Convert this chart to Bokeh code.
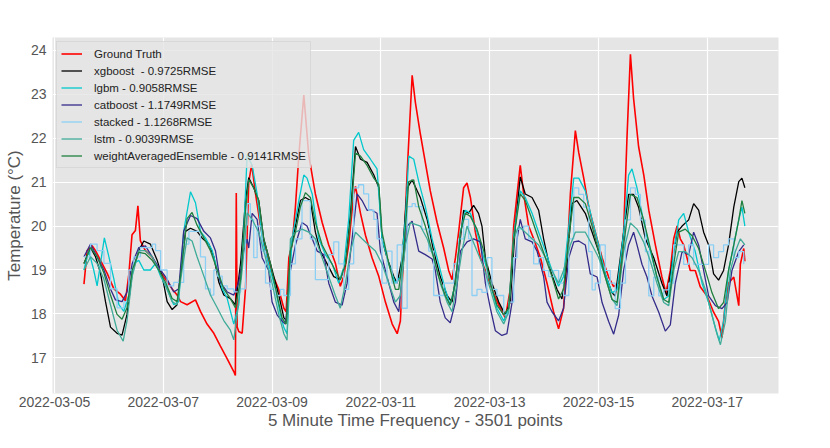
import numpy as np
import pandas as pd
from bokeh.plotting import figure
from bokeh.models import Range1d, FixedTicker, DatetimeTickFormatter
from bokeh.embed import file_html
from bokeh.resources import INLINE

# ---------------- data (hours since first sample, values in °C) ----------------
start_time = "2022-03-05 13:00"

gt_h = [0, 1.4, 3.6, 5.1, 7.3, 10.2, 13.2, 16.1, 18.3, 19.8, 21.2, 22.7, 23.8, 24.9, 27.1, 30.1, 33.0, 36.0, 38.9, 41.1,
        42.6, 45.5, 49.2, 51.4, 54.3, 57.3, 60.2, 63.2, 66.1, 66.8, 67.2, 67.6, 68.3, 69.8, 71.3, 72.7, 74.0, 75.7, 77.9,
        80.1, 83.0, 85.9, 88.2, 89.2, 90.4, 91.8, 93.3, 94.8, 97.0, 99.2, 102.1, 105.1, 108.0, 111.0, 113.1, 114.6,
        116.8, 119.0, 119.8, 122.0, 124.2, 127.1, 130.1, 133.0, 136.0, 138.2, 139.6, 141.1, 142.6, 144.8, 146.2, 148.4,
        150.6, 152.8, 155.8, 158.7, 160.9, 162.4, 163.9, 165.3, 167.5, 169.0, 170.5, 172.7, 174.9, 177.1, 180.0, 183.0,
        185.9, 188.1, 189.6, 191.1, 192.5, 194.0, 196.2, 198.4, 201.4, 204.3, 207.2, 209.4, 211.6, 213.1, 214.6, 216.8,
        218.3, 220.5, 222.7, 225.6, 228.6, 231.5, 233.7, 235.9, 238.1, 239.6, 241.1, 242.5, 244.7, 247.0, 249.2, 252.1,
        255.0, 256.8, 258.7, 260.2, 261.7, 263.1, 264.6, 267.5, 269.7, 271.9, 274.9, 277.8, 280.0, 281.5, 283.0, 284.4,
        286.7, 288.9, 289.6, 291.1, 291.6]
gt_v = [18.68, 19.44, 19.55, 19.44, 19.22, 18.93, 18.57, 18.45, 18.3, 18.9, 19.8, 19.9, 20.46, 19.66, 19.44, 19.3, 19.0,
        18.79, 18.57, 18.43, 18.28, 18.21, 18.32, 18.06, 17.77, 17.56, 17.27, 16.98, 16.69, 16.6, 20.75, 17.7, 17.6,
        17.56, 18.6, 21.0, 21.4, 20.73, 20.0, 19.43, 18.92, 18.56, 18.13, 18.05, 19.28, 19.57, 20.44, 21.6, 22.98, 21.6,
        20.73, 20.08, 19.57, 19.14, 18.63, 18.85, 19.57, 20.73, 20.9, 20.29, 19.79, 19.28, 18.85, 18.27, 17.77, 17.55,
        17.84, 19.43, 21.23, 23.43, 22.82, 22.1, 21.45, 20.8, 20.08, 19.5, 18.99, 18.78, 19.28, 19.86, 20.87, 20.98,
        20.65, 19.86, 19.28, 18.99, 18.56, 18.2, 17.91, 18.56, 20.0, 20.73, 21.38, 20.73, 20.0, 19.71, 19.28, 18.7, 18.05,
        17.66, 18.13, 19.28, 20.73, 22.17, 21.67, 21.09, 20.43, 19.86, 19.28, 18.84, 18.62, 18.7, 19.86, 22.03, 23.91,
        22.9, 21.81, 21.16, 20.36, 19.57, 18.84, 18.48, 18.99, 19.71, 20.0, 19.71, 19.57, 18.99, 18.99, 18.62, 18.41,
        18.04, 17.83, 17.46, 18.26, 18.7, 18.84, 18.19, 19.13, 19.49, 19.2]

xgb_h = [0, 2.9, 5.1, 7.3, 9.5, 11.7, 14.6, 16.8, 19.0, 21.3, 24.2, 26.4, 29.3, 32.3, 34.5, 36.7, 38.9, 41.1, 42.6, 44.8,
         47.0, 49.9, 52.1, 55.1, 57.3, 59.5, 61.7, 64.6, 66.8, 69.1, 71.3, 72.7, 74.9, 77.1, 79.3, 82.3, 86.0, 88.2,
         89.6, 91.1, 93.3, 95.5, 97.7, 99.9, 102.1, 104.3, 107.3, 110.2, 113.1, 115.4, 117.6, 119.8, 122.0, 124.9,
         127.9, 130.1, 131.5, 133.7, 136.7, 138.2, 140.4, 142.6, 144.8, 148.4, 151.4, 154.3, 157.2, 160.2, 162.4,
         164.6, 167.5, 169.7, 171.9, 174.1, 175.6, 177.1, 180.0, 183.0, 185.9, 188.1, 190.3, 192.5, 194.7, 197.7,
         200.6, 202.8, 205.8, 208.7, 210.9, 213.1, 215.3, 217.5, 221.2, 224.2, 227.1, 230.0, 233.0, 234.4, 237.4,
         240.3, 242.5, 244.7, 247.7, 251.4, 255.0, 257.2, 259.4, 261.7, 263.9, 266.8, 269.0, 271.2, 273.4, 275.6,
         277.8, 280.0, 282.2, 284.4, 286.7, 288.9, 290.3, 291.6]
xgb_v = [19.15, 19.51, 19.3, 18.93, 18.28, 17.7, 17.56, 17.52, 17.99, 18.93, 19.44, 19.66, 19.59, 19.22, 18.86, 18.28,
         18.1, 18.21, 18.86, 19.88, 19.95, 19.88, 19.73, 19.59, 19.3, 18.72, 18.43, 18.35, 18.21, 19.15, 20.6, 21.1,
         20.87, 20.58, 19.71, 19.14, 18.42, 17.91, 17.84, 19.43, 20.0, 20.58, 20.65, 20.58, 19.86, 19.43, 19.14, 18.85,
         18.78, 19.14, 20.29, 21.81, 21.52, 21.45, 21.16, 20.87, 19.71, 19.28, 18.85, 18.7, 19.28, 20.87, 21.05, 20.65,
         20.15, 19.43, 18.85, 18.42, 18.27, 19.06, 20.36, 20.29, 20.47, 20.29, 20.0, 19.28, 18.7, 18.27, 17.98, 18.27,
         20.0, 21.12, 20.73, 20.65, 20.36, 19.71, 18.99, 18.56, 18.34, 19.14, 20.51, 20.58, 20.29, 19.86, 19.42, 18.91,
         18.48, 18.41, 19.57, 20.72, 20.72, 20.43, 19.71, 19.28, 18.7, 18.41, 19.13, 19.86, 20.0, 20.14, 20.51, 20.36,
         19.86, 19.57, 18.91, 18.77, 18.99, 19.57, 20.43, 21.01, 21.09, 20.87]

lgbm_h = [0, 2.1, 4.3, 5.8, 7.3, 9.0, 11.0, 13.2, 15.4, 17.6, 19.8, 22.0, 24.2, 26.4, 29.3, 31.6, 33.8, 36.7, 39.6, 41.8,
          44.0, 47.0, 49.2, 51.4, 53.6, 56.6, 58.8, 61.0, 63.2, 66.1, 68.3, 70.5, 72.0, 74.2, 76.4, 78.6, 81.5, 84.5,
          86.7, 88.2, 89.6, 91.8, 94.8, 97.0, 98.4, 100.7, 103.6, 106.5, 109.5, 112.4, 114.6, 116.8, 119.0, 121.2,
          123.4, 126.4, 129.3, 131.5, 134.5, 137.4, 139.6, 141.8, 143.3, 145.5, 147.7, 150.6, 153.6, 156.5, 159.4,
          161.6, 163.9, 166.1, 168.3, 170.5, 173.4, 176.4, 179.3, 182.2, 185.2, 187.4, 189.6, 192.5, 194.7, 197.7,
          200.6, 203.6, 206.5, 209.4, 211.6, 213.9, 216.1, 218.3, 221.2, 224.2, 227.1, 230.0, 233.0, 235.2, 238.1,
          240.3, 241.8, 244.0, 246.2, 249.2, 252.8, 255.8, 258.0, 260.2, 262.4, 264.6, 266.8, 269.7, 272.7, 275.6,
          278.6, 280.3, 282.2, 284.4, 286.7, 288.9, 290.3, 291.6]
lgbm_v = [19.0, 19.44, 19.0, 18.64, 19.15, 19.73, 19.3, 18.79, 18.21, 18.06, 18.43, 19.15, 19.22, 19.0, 19.0, 19.15,
          18.86, 18.57, 18.21, 18.28, 19.88, 20.78, 20.53, 19.88, 19.73, 19.44, 19.0, 18.57, 18.35, 17.77, 18.21, 19.88,
          21.62, 21.38, 20.73, 19.71, 19.14, 18.56, 17.98, 17.69, 17.55, 19.71, 20.58, 21.16, 21.09, 20.73, 19.71,
          19.35, 19.14, 18.7, 19.06, 20.15, 21.95, 22.13, 21.74, 21.52, 21.3, 19.71, 19.14, 18.7, 18.85, 20.15, 21.59,
          21.52, 21.01, 20.44, 19.71, 19.14, 18.56, 18.2, 18.7, 19.86, 20.36, 20.29, 19.86, 19.28, 18.7, 18.13, 17.84,
          18.13, 19.79, 20.8, 20.65, 20.29, 19.86, 19.43, 18.99, 18.63, 18.85, 20.0, 21.09, 21.09, 20.8, 20.14, 19.57,
          18.91, 18.48, 18.55, 19.86, 21.16, 21.3, 20.87, 20.29, 19.57, 18.84, 18.33, 18.41, 19.42, 20.14, 20.29, 19.86,
          19.42, 18.7, 18.26, 17.68, 17.4, 17.83, 18.99, 19.57, 20.14, 20.43, 20.0]

cat_h = [0, 2.9, 5.8, 8.8, 11.7, 13.9, 16.8, 19.0, 21.3, 24.2, 27.1, 30.1, 33.8, 36.7, 39.6, 41.8, 44.0, 47.0, 49.9,
         52.9, 55.8, 58.0, 60.2, 63.2, 66.1, 68.3, 70.5, 72.0, 72.7, 74.2, 76.4, 78.6, 81.5, 83.0, 85.2, 87.4, 88.9,
         91.1, 93.3, 96.2, 98.4, 100.7, 102.9, 105.8, 108.0, 110.9, 113.9, 116.1, 118.3, 120.5, 122.7, 124.9, 127.1,
         129.3, 130.8, 133.7, 136.7, 138.9, 141.1, 142.6, 144.8, 147.7, 150.6, 153.6, 155.0, 157.2, 159.4, 161.6,
         163.9, 166.1, 169.0, 171.9, 174.9, 177.1, 179.3, 181.5, 184.4, 186.6, 188.9, 191.1, 192.5, 194.7, 197.7,
         199.9, 202.8, 204.3, 206.5, 209.4, 211.6, 213.9, 216.1, 218.3, 221.2, 223.4, 226.4, 228.6, 231.5, 233.7,
         235.9, 238.1, 240.3, 242.5, 244.0, 246.2, 248.4, 250.6, 253.6, 256.5, 258.7, 260.9, 263.9, 266.8, 269.0,
         271.2, 273.4, 275.6, 278.6, 281.5, 283.8, 285.9, 288.9, 291.1]
cat_v = [19.3, 19.59, 19.3, 19.0, 18.57, 18.32, 18.28, 18.5, 19.15, 19.51, 19.55, 19.3, 19.0, 18.79, 18.5, 18.57, 19.88,
         20.24, 20.17, 19.88, 19.73, 19.44, 18.72, 18.5, 18.43, 18.72, 19.44, 19.7, 19.5, 20.29, 20.15, 19.28, 18.99,
         18.27, 17.98, 17.84, 17.77, 18.99, 19.57, 20.08, 20.0, 19.71, 19.43, 19.35, 18.7, 18.27, 18.2, 18.7, 19.71,
         20.73, 20.58, 20.36, 20.36, 20.29, 19.43, 18.85, 18.27, 18.05, 19.28, 20.0, 20.11, 19.43, 19.35, 19.25, 18.99,
         18.27, 17.91, 17.8, 18.27, 19.43, 19.64, 19.71, 19.64, 18.7, 18.13, 17.62, 17.51, 17.55, 18.27, 19.71, 20.15,
         19.71, 19.64, 19.43, 18.85, 18.27, 18.05, 17.84, 18.13, 19.28, 19.64, 19.66, 19.57, 18.91, 18.84, 18.26, 17.83,
         17.54, 17.97, 18.99, 19.57, 19.86, 19.57, 19.13, 18.84, 18.41, 18.04, 17.61, 17.75, 18.7, 19.42, 19.35, 19.86,
         19.57, 18.99, 18.41, 18.19, 18.12, 18.26, 18.99, 19.42, 19.57]

stk_h = [0, 2.9, 5.8, 8.8, 11.7, 14.6, 17.6, 19.8, 22.0, 24.9, 27.9, 30.1, 31.6, 33.8, 36.7, 39.6, 42.6, 44.0, 46.3,
         49.2, 51.4, 53.6, 55.8, 57.3, 58.8, 61.0, 63.2, 66.1, 69.1, 71.3, 72.0, 73.4, 74.9, 76.4, 78.6, 80.1, 82.3,
         84.5, 86.7, 88.2, 89.6, 91.1, 93.3, 96.2, 98.4, 99.9, 102.1, 105.1, 108.0, 110.2, 112.4, 114.6, 116.8, 119.0,
         121.2, 123.4, 125.6, 127.9, 129.3, 131.5, 133.7, 135.9, 138.2, 140.4, 142.6, 144.8, 146.2, 149.1, 152.1,
         154.3, 156.5, 158.7, 160.9, 163.1, 165.3, 167.5, 169.7, 171.2, 173.4, 175.6, 177.8, 180.0, 182.2, 185.2,
         187.4, 189.6, 191.1, 194.0, 196.2, 198.4, 200.6, 202.8, 205.0, 207.2, 209.4, 211.6, 213.9, 216.1, 218.3,
         220.5, 222.7, 224.2, 225.6, 227.8, 230.0, 232.2, 234.4, 236.7, 238.9, 241.1, 243.3, 245.5, 247.7, 249.2,
         251.4, 253.6, 255.8, 258.0, 260.2, 262.4, 264.6, 266.8, 269.0, 271.2, 273.4, 275.6, 277.8, 280.0, 282.2,
         284.4, 286.7, 288.9, 291.1]
stk_v = [19.3, 19.59, 19.44, 19.15, 18.57, 18.14, 18.28, 19.0, 19.3, 19.51, 19.51, 19.59, 19.44, 19.0, 18.64, 18.72,
         18.72, 19.59, 19.88, 19.88, 19.3, 18.57, 18.43, 19.0, 18.86, 18.64, 18.57, 18.5, 18.57, 20.02, 20.51, 20.15,
         19.28, 20.0, 19.43, 18.7, 18.56, 18.42, 18.56, 18.42, 18.42, 19.14, 19.71, 20.58, 20.58, 19.71, 18.78, 18.78,
         19.35, 19.64, 19.14, 18.56, 19.14, 20.87, 20.94, 20.73, 20.36, 20.15, 19.71, 18.7, 19.43, 18.7, 19.57, 18.13,
         20.44, 20.51, 20.44, 19.93, 19.43, 18.42, 18.42, 18.7, 18.7, 19.14, 19.71, 20.15, 19.71, 18.42, 18.56, 18.49,
         19.28, 18.56, 18.42, 17.98, 18.27, 19.28, 19.93, 20.0, 19.71, 19.14, 19.28, 18.99, 18.85, 18.99, 18.7, 18.42,
         19.71, 20.87, 20.72, 20.43, 19.42, 18.55, 18.7, 19.57, 18.99, 18.7, 18.12, 18.7, 20.14, 20.87, 20.72, 20.14,
         19.42, 18.41, 18.84, 18.41, 18.55, 18.7, 19.57, 19.57, 19.13, 19.57, 19.13, 19.13, 19.13, 19.57, 19.28, 19.42,
         19.57, 19.71, 19.28, 19.42, 19.13]

lstm_h = [0, 2.9, 5.8, 8.8, 11.7, 14.6, 17.3, 19.0, 21.3, 24.2, 27.1, 30.1, 33.0, 36.0, 38.9, 41.1, 43.3, 45.5, 47.7,
          49.9, 52.9, 55.8, 58.8, 61.7, 64.6, 66.1, 67.6, 69.8, 72.0, 74.2, 77.1, 80.1, 83.0, 86.0, 88.2, 89.6, 91.1,
          93.3, 96.2, 99.2, 102.1, 105.1, 108.0, 110.9, 113.1, 115.4, 117.6, 119.8, 122.7, 125.6, 128.6, 131.5, 134.5,
          137.4, 139.6, 141.8, 144.0, 148.4, 151.4, 154.3, 157.2, 160.2, 162.4, 164.6, 166.8, 169.0, 171.2, 173.4,
          176.4, 179.3, 182.2, 185.2, 187.4, 189.6, 191.8, 194.7, 197.7, 200.6, 203.6, 206.5, 209.4, 211.6, 214.6,
          216.8, 221.2, 224.2, 227.1, 230.0, 233.0, 235.2, 238.1, 241.1, 244.0, 246.9, 249.9, 252.8, 255.8, 258.0,
          260.2, 262.4, 265.3, 268.3, 271.2, 274.2, 277.1, 279.3, 280.8, 283.0, 285.2, 287.4, 289.6, 291.6]
lstm_v = [19.0, 19.3, 19.15, 18.79, 18.21, 17.63, 17.38, 17.85, 18.86, 19.44, 19.44, 19.3, 19.0, 18.64, 18.28, 18.21,
          19.0, 19.73, 19.66, 19.3, 18.86, 18.43, 18.14, 17.85, 17.63, 17.41, 17.99, 19.0, 20.3, 20.15, 19.86, 19.28,
          18.7, 17.98, 17.55, 17.4, 19.71, 19.86, 19.93, 19.86, 19.71, 19.28, 18.85, 18.42, 18.13, 18.7, 19.43, 19.86,
          19.71, 19.57, 19.43, 19.14, 18.7, 18.27, 18.42, 19.57, 20.08, 20.0, 19.71, 19.28, 18.7, 18.27, 18.05, 18.7,
          19.43, 20.0, 19.71, 19.43, 19.06, 18.56, 18.05, 17.77, 18.05, 19.71, 20.0, 19.86, 19.71, 19.57, 19.28, 18.99,
          18.7, 18.99, 19.57, 19.86, 19.86, 19.57, 19.28, 18.84, 18.33, 18.19, 19.42, 20.07, 19.93, 19.64, 19.2, 18.7,
          18.26, 18.19, 18.99, 19.42, 19.42, 19.28, 18.99, 18.55, 17.97, 17.54, 17.3, 17.83, 18.99, 19.42, 19.71, 19.57]

wae_h = [0, 2.9, 5.8, 8.8, 11.7, 14.6, 16.8, 19.0, 21.3, 24.2, 27.1, 30.1, 33.0, 36.0, 38.9, 41.1, 43.3, 45.5, 47.7,
         49.9, 52.9, 55.8, 58.8, 61.7, 64.6, 66.8, 69.1, 71.3, 72.7, 74.9, 77.1, 79.3, 82.3, 85.2, 87.4, 89.2, 91.1,
         93.3, 95.5, 97.7, 99.9, 102.1, 105.1, 108.0, 110.9, 113.1, 115.4, 117.6, 119.8, 122.0, 124.9, 127.9, 130.1,
         131.5, 134.5, 137.4, 138.9, 141.1, 143.3, 145.5, 147.7, 150.6, 153.6, 156.5, 159.4, 161.6, 163.9, 166.1,
         168.3, 170.5, 173.4, 176.4, 179.3, 182.2, 185.2, 187.4, 189.6, 192.5, 194.7, 197.7, 200.6, 203.6, 206.5,
         209.4, 211.6, 213.9, 216.1, 218.3, 221.2, 224.2, 227.1, 230.0, 233.0, 235.2, 238.1, 241.1, 244.0, 246.9,
         249.9, 252.8, 255.8, 258.0, 260.2, 262.4, 265.3, 268.3, 271.2, 274.2, 277.1, 280.0, 282.2, 284.4, 286.7,
         288.9, 290.3, 291.6]
wae_v = [19.15, 19.51, 19.3, 18.93, 18.43, 17.99, 17.88, 18.14, 19.0, 19.4, 19.37, 19.22, 19.0, 18.72, 18.35, 18.28,
         19.15, 20.17, 20.31, 20.02, 19.73, 19.44, 19.0, 18.57, 18.35, 18.14, 18.79, 20.38, 21.06, 20.87, 20.58, 19.71,
         19.14, 18.42, 17.91, 17.77, 19.43, 19.86, 20.44, 20.76, 20.65, 20.08, 19.57, 19.28, 18.99, 18.78, 19.14, 20.15,
         21.66, 21.59, 21.38, 21.09, 20.94, 19.86, 19.14, 18.56, 18.56, 19.43, 21.01, 21.05, 20.44, 20.0, 19.43, 18.85,
         18.42, 18.2, 18.7, 19.86, 20.29, 20.22, 19.93, 19.43, 18.7, 18.2, 17.98, 18.13, 19.71, 20.73, 20.58, 20.15,
         19.71, 19.28, 18.85, 18.34, 18.56, 19.71, 20.65, 20.65, 20.51, 20.0, 19.42, 18.84, 18.33, 18.26, 19.57, 20.72,
         20.65, 20.14, 19.49, 18.84, 18.33, 18.26, 19.13, 19.86, 19.93, 19.78, 19.49, 18.99, 18.48, 18.12, 18.26, 18.99,
         19.57, 20.14, 20.58, 20.29]

labels = ["Ground Truth", "xgboost  - 0.9725RMSE", "lgbm - 0.9058RMSE", "catboost - 1.1749RMSE",
          "stacked - 1.1268RMSE", "lstm - 0.9039RMSE", "weightAveragedEnsemble - 0.9141RMSE"]
colors = ["#ff0000", "#000000", "#00c8cc", "#342c8a", "#8ccff5", "#3fab98", "#1f7f3f"]
y_ticks = [17, 18, 19, 20, 21, 22, 23, 24]
x_tick_days = ["2022-03-05", "2022-03-07", "2022-03-09", "2022-03-11", "2022-03-13", "2022-03-15", "2022-03-17"]

# ---------------- figure ----------------
t0 = pd.Timestamp(start_time)


def to_time(hours):
    return (t0 + pd.to_timedelta(np.asarray(hours, dtype=float), unit="h")).to_numpy()


FONT = "Liberation Sans"
p = figure(width=814, height=432, x_axis_type="datetime",
           x_range=Range1d(pd.Timestamp("2022-03-04 23:07"), pd.Timestamp("2022-03-18 07:26")),
           y_range=Range1d(16.19, 24.29),
           output_backend="svg", toolbar_location=None,
           background_fill_color="#e5e5e5", border_fill_color="white", outline_line_color=None,
           min_border_left=52, min_border_right=36, min_border_top=37, min_border_bottom=38)

series = [(gt_h, gt_v), (xgb_h, xgb_v), (lgbm_h, lgbm_v), (cat_h, cat_v),
          (stk_h, stk_v), (lstm_h, lstm_v), (wae_h, wae_v)]
for i, ((hh, vv), lab, col) in enumerate(zip(series, labels, colors)):
    if i == 4:
        p.step(to_time(hh), vv, mode="after", line_color=col, line_width=1.3, legend_label=lab)
    else:
        p.line(to_time(hh), vv, line_color=col, line_width=1.6 if i == 0 else 1.3, legend_label=lab)

p.xaxis.ticker = FixedTicker(ticks=[pd.Timestamp(d).value / 1e6 for d in x_tick_days])
p.xaxis.formatter = DatetimeTickFormatter(days="%Y-%m-%d", months="%Y-%m-%d", hours="%Y-%m-%d",
                                          years="%Y-%m-%d")
p.yaxis.ticker = FixedTicker(ticks=y_ticks)

p.xaxis.axis_label = "5 Minute Time Frequency - 3501 points"
p.yaxis.axis_label = "Temperature (°C)"
for ax in (p.xaxis[0], p.yaxis[0]):
    ax.axis_line_color = None
    ax.major_tick_line_color = None
    ax.minor_tick_line_color = None
    ax.major_tick_out = 0
    ax.major_tick_in = 0
    ax.minor_tick_out = 0
    ax.minor_tick_in = 0
    ax.major_label_text_color = "#555555"
    ax.major_label_text_font = FONT
    ax.major_label_text_font_size = "14px"
    ax.axis_label_text_color = "#555555"
    ax.axis_label_text_font = FONT
    ax.axis_label_text_font_size = "17px"
    ax.axis_label_text_font_style = "normal"
p.xaxis.major_label_standoff = 3
p.xaxis.axis_label_standoff = 1
p.yaxis.major_label_standoff = 6
p.yaxis.axis_label_standoff = 4

p.xgrid.grid_line_color = "white"
p.ygrid.grid_line_color = "white"
p.xgrid.grid_line_width = 1.2
p.ygrid.grid_line_width = 1.2

lg = p.legend[0]
lg.location = "top_left"
lg.margin = 4
lg.padding = 4
lg.spacing = 2
lg.glyph_width = 21
lg.glyph_height = 15
lg.label_height = 15
lg.label_standoff = 12
lg.label_text_font = FONT
lg.label_text_font_size = "11.5px"
lg.label_text_color = "#222222"
lg.background_fill_color = "#e5e5e5"
lg.background_fill_alpha = 0.8
lg.border_line_color = "#cccccc"
lg.border_line_width = 1

open("out.html", "w").write(file_html(p, INLINE))
